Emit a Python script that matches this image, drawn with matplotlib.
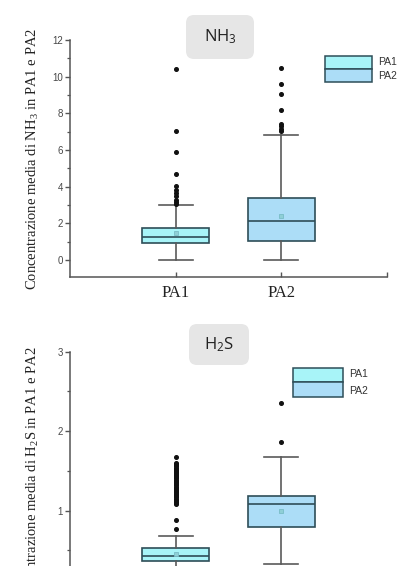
import matplotlib
matplotlib.use("Agg")
import matplotlib.pyplot as plt
from matplotlib.patches import FancyBboxPatch, Rectangle

# ---------------- data ----------------
groups = ["PA1", "PA2"]

nh3_q1 = [0.95, 1.05]
nh3_med = [1.24, 2.11]
nh3_q3 = [1.76, 3.40]
nh3_whislo = [0.0, 0.0]
nh3_whishi = [2.98, 6.80]
nh3_mean = [1.47, 2.40]
nh3_fliers_pa1 = [10.4, 7.02, 5.89, 4.67, 4.03, 3.82, 3.64, 3.51, 3.27, 3.18, 3.05]
nh3_fliers_pa2 = [10.45, 9.62, 9.05, 8.18, 7.40, 7.29, 7.16, 7.04]

h2s_q1 = [0.37, 0.80]
h2s_med = [0.43, 1.08]
h2s_q3 = [0.53, 1.185]
h2s_whislo = [0.15, 0.33]
h2s_whishi = [0.68, 1.68]
h2s_mean = [0.45, 1.00]
h2s_fliers_pa1 = [0.766, 0.883, 1.09, 1.10, 1.11, 1.12, 1.14, 1.15, 1.17, 1.18,
                  1.20, 1.21, 1.23, 1.24, 1.26, 1.27, 1.29, 1.30, 1.32, 1.33,
                  1.35, 1.36, 1.38, 1.39, 1.41, 1.42, 1.44, 1.45, 1.47, 1.48,
                  1.50, 1.51, 1.53, 1.54, 1.56, 1.57, 1.59, 1.60, 1.68]
h2s_fliers_pa2 = [2.36, 1.86]

nh3_yticks = [0, 2, 4, 6, 8, 10, 12]
nh3_yminor = [1, 3, 5, 7, 9, 11]
h2s_yticks = [1, 2, 3]
h2s_yminor = [0.5, 1.5, 2.5]

# ---------------- style ----------------
fill_pa1 = "#A8F4F8"
fill_pa2 = "#ACDDF7"
edge_col = "#2E4E58"
axis_col = "#555555"
whisk_col = "#5A5A5A"

fig = plt.figure(figsize=(4.09, 5.66), dpi=100)


def stats(q1, med, q3, lo, hi, mean, fliers):
    out = []
    for i in range(len(q1)):
        out.append(dict(q1=q1[i], med=med[i], q3=q3[i], whislo=lo[i],
                        whishi=hi[i], mean=mean[i], fliers=fliers[i], label=groups[i]))
    return out


def draw(ax, st, yticks, yminor, ylim, ylabel, show_xlabels=True):
    bp = ax.bxp(st, positions=[1, 2], widths=0.64, patch_artist=True,
                showmeans=True, showfliers=True,
                boxprops=dict(edgecolor=edge_col, linewidth=1.2),
                medianprops=dict(color=edge_col, linewidth=1.2),
                whiskerprops=dict(color=whisk_col, linewidth=1.2),
                capprops=dict(color=whisk_col, linewidth=1.2),
                capwidths=0.32,
                meanprops=dict(marker="s", markersize=3, markerfacecolor="#8FCFD6",
                               markeredgecolor="#78BCC6", markeredgewidth=0.6),
                flierprops=dict(marker="o", markersize=2.6, markerfacecolor="#111111",
                                markeredgecolor="#111111", linestyle="none"))
    for patch, c in zip(bp["boxes"], [fill_pa1, fill_pa2]):
        patch.set_facecolor(c)
    ax.set_xlim(0, 3)
    ax.set_ylim(*ylim)
    ax.set_yticks(yticks)
    ax.set_yticks(yminor, minor=True)
    ax.set_xticks([1, 2])
    ax.set_xticks([3], minor=True)
    if show_xlabels:
        ax.set_xticklabels(groups, family="Liberation Serif", fontsize=12, color="#222222")
    else:
        ax.set_xticklabels([])
    for lab in ax.get_yticklabels():
        lab.set_family("Liberation Sans")
        lab.set_fontsize(7)
        lab.set_color("#474747")
    ax.tick_params(axis="y", which="major", direction="out", length=3.5, width=1.0,
                   color=axis_col, pad=1.5)
    ax.tick_params(axis="y", which="minor", direction="out", length=2, width=0.9,
                   color=axis_col)
    ax.tick_params(axis="x", which="both", direction="in", length=3.5, width=1.0,
                   color=axis_col, pad=6)
    for s in ["top", "right"]:
        ax.spines[s].set_visible(False)
    for s in ["left", "bottom"]:
        ax.spines[s].set_color(axis_col)
        ax.spines[s].set_linewidth(1.1)
    ax.set_ylabel(ylabel, family="Liberation Serif", fontsize=10.5, color="#222222")
    ax.set_facecolor("none")


ax1 = fig.add_axes([70 / 409, 1 - 277 / 566, 317 / 409, 237 / 566])
draw(ax1, stats(nh3_q1, nh3_med, nh3_q3, nh3_whislo, nh3_whishi, nh3_mean,
                [nh3_fliers_pa1, nh3_fliers_pa2]),
     nh3_yticks, nh3_yminor, (-0.93, 12),
     r"Concentrazione media di NH$\mathregular{_3}$ in PA1 e PA2")
ax1.yaxis.set_label_coords(-0.09, 0.5)

ax2 = fig.add_axes([70 / 409, 1 - 610.1 / 566, 317 / 409, 258.4 / 566])
draw(ax2, stats(h2s_q1, h2s_med, h2s_q3, h2s_whislo, h2s_whishi, h2s_mean,
                [h2s_fliers_pa1, h2s_fliers_pa2]),
     h2s_yticks, h2s_yminor, (-0.25, 3),
     r"Concentrazione media di H$\mathregular{_2}$S in PA1 e PA2",
     show_xlabels=False)
ax2.yaxis.set_label_coords(-0.09, 0.52)

T = fig.dpi_scale_trans


def title_box(x0, y0, w, h, text):
    fig.patches.append(FancyBboxPatch((x0, y0), w, h, transform=T,
                                      boxstyle="round,pad=0,rounding_size=0.08",
                                      facecolor="#E6E6E6", edgecolor="none"))
    fig.text(x0 + w / 2, y0 + h / 2, text, transform=T, ha="center", va="center",
             family="Open Sans", fontsize=12, color="#222222")


title_box(1.86, 5.07, 0.68, 0.44, r"NH$\mathregular{_3}$")
title_box(1.89, 2.01, 0.60, 0.41, r"H$\mathregular{_2}$S")


def legend_box(x0, x1, ylo, ymid, yhi, tx, ty1, ty2):
    fig.patches.append(Rectangle((x0, ymid), x1 - x0, yhi - ymid, transform=T,
                                 facecolor=fill_pa1, edgecolor=edge_col, linewidth=1.1))
    fig.patches.append(Rectangle((x0, ylo), x1 - x0, ymid - ylo, transform=T,
                                 facecolor=fill_pa2, edgecolor=edge_col, linewidth=1.1))
    fig.text(tx, ty1, groups[0], transform=T, ha="left", va="center",
             family="Liberation Sans", fontsize=7.5, color="#333333")
    fig.text(tx, ty2, groups[1], transform=T, ha="left", va="center",
             family="Liberation Sans", fontsize=7.5, color="#333333")


legend_box(3.25, 3.72, 4.84, 4.97, 5.10, 3.78, 5.04, 4.90)
legend_box(2.93, 3.43, 1.69, 1.84, 1.98, 3.49, 1.92, 1.75)

fig.savefig("out.png", dpi=100, facecolor="white")
